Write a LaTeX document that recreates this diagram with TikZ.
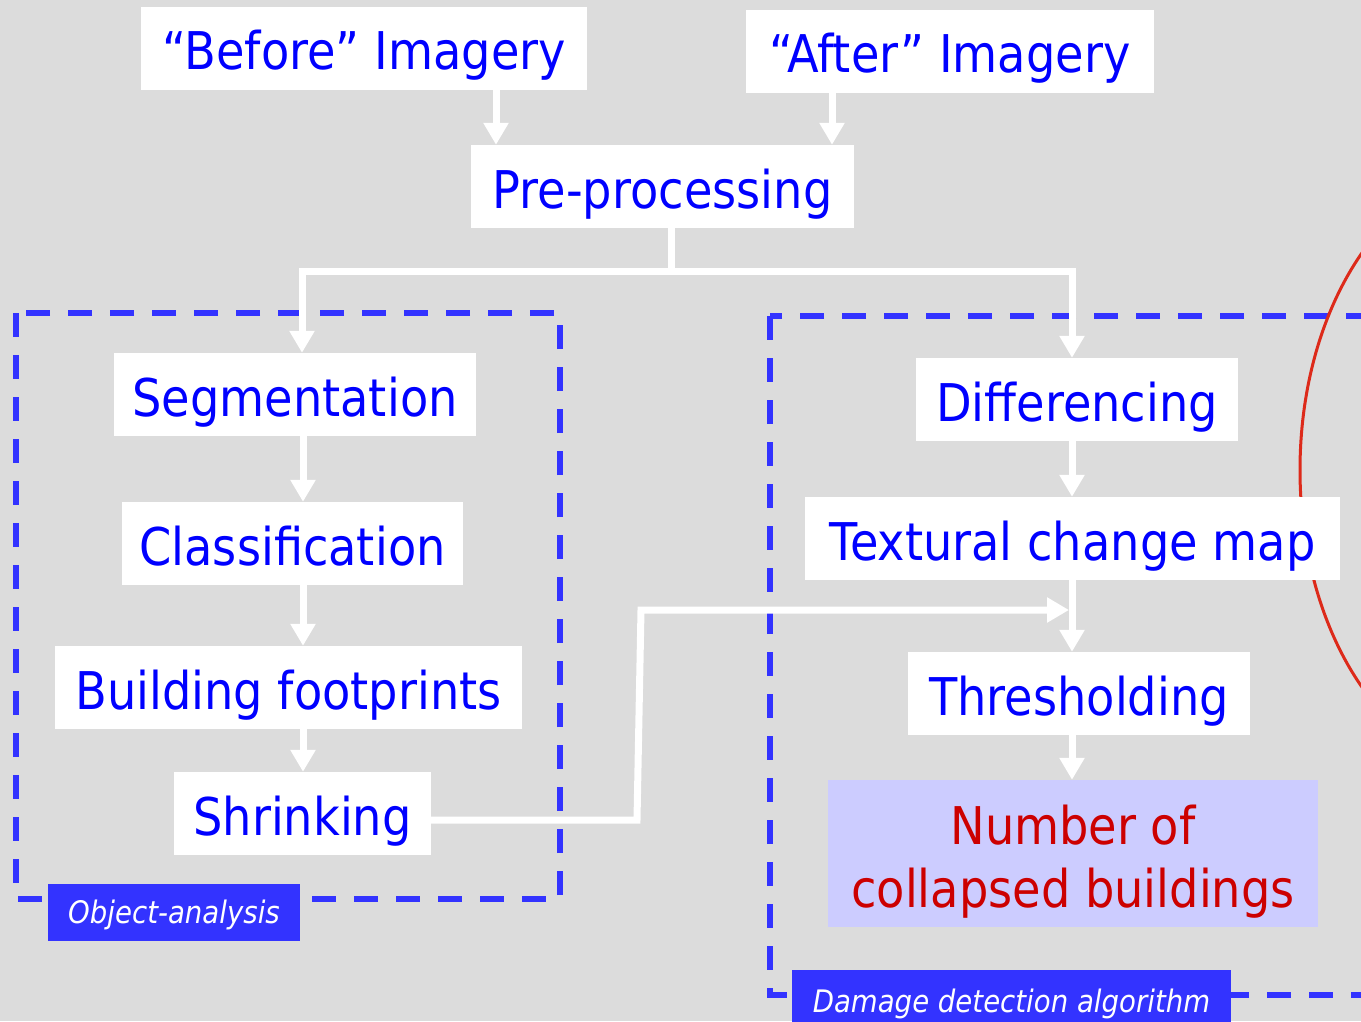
\documentclass[tikz,border=0pt]{standalone}
\usepackage{fontspec}
\setmainfont{DejaVu Sans}[FakeStretch=0.89]
\usetikzlibrary{arrows.meta}
\definecolor{bg}{HTML}{DCDCDC}
\definecolor{tblue}{HTML}{0000FF}
\definecolor{dblue}{HTML}{3333FF}
\definecolor{nred}{HTML}{CC0000}
\definecolor{nfill}{HTML}{CCCCFF}
\definecolor{ered}{HTML}{DD2A1A}
\begin{document}
\begin{tikzpicture}[x=1pt,y=-1pt,
  boxbase/.style={fill=white, text=tblue, font=\fontsize{52}{63}\selectfont, inner sep=0pt, minimum height=83pt},
  box/.style={boxbase, text height=43pt, text depth=0pt},
  lab/.style={fill=dblue, text=white, font=\fontsize{31}{36}\selectfont\itshape, inner sep=0pt, text depth=0pt},
  link/.style={draw=white, line width=7pt, line join=miter},
  arr/.style={link, -{Triangle[width=24pt,length=22pt]}},
  dbox/.style={draw=dblue, line width=5.5pt, dash pattern=on 24pt off 18pt}]
\useasboundingbox (0,0) rectangle (1361,1021);
\fill[bg] (0,0) rectangle (1361,1021);
% dashed group boxes
\draw[dbox] (16,313) rectangle (560,899);
\draw[dbox] (770,316) rectangle (1420,995);
% red ellipse
\begin{scope}
\clip (0,0) rectangle (1361,1021);
\draw[ered, line width=3pt] (1500,470) ellipse [x radius=200, y radius=300];
\end{scope}
% nodes
\node[box, minimum width=446pt] (before) at (364,48) {“Before” Imagery};
\node[box, minimum width=408pt] (after) at (950,51) {“After” Imagery};
\node[box, minimum width=383pt] (pre) at (662.5,186.5) {Pre-processing};
\node[box, minimum width=362pt] (seg) at (295,394.5) {Segmentation};
\node[box, minimum width=341pt] (cls) at (292.5,543.5) {Classification};
\node[box, minimum width=467pt] (bfp) at (288.5,687.5) {Building footprints};
\node[box, minimum width=257pt] (shr) at (302.5,813.5) {Shrinking};
\node[box, minimum width=322pt] (dif) at (1077,399.5) {Differencing};
\node[box, minimum width=535pt] (tex) at (1072.5,538.5) {Textural change map};
\node[box, minimum width=342pt] (thr) at (1079,693.5) {Thresholding};
\node[boxbase, fill=nfill, text=nred, align=center, text depth=0pt, minimum width=490pt, minimum height=147pt] (num) at (1073,853.5) {\rule{0pt}{45pt}Number of\\collapsed buildings};
\node[lab, text height=21pt, minimum width=252pt, minimum height=57pt] (oa) at (174,912.5) {Object-analysis};
\node[lab, text height=24pt, minimum width=439pt, minimum height=60pt] (dd) at (1011.5,1000) {Damage detection algorithm};
% helper coordinates
\coordinate (xb) at (496,0);
\coordinate (xa) at (832,0);
\coordinate (j) at (671,271);
\coordinate (xs) at (302,0);
\coordinate (xl) at (303,0);
\coordinate (xr) at (1072,0);
\coordinate (s1) at (637,820);
\coordinate (s2) at (641,610);
\coordinate (s3) at (1069,610);
% connectors
\draw[arr] (before.south -| xb) -- (pre.north -| xb);
\draw[arr] (after.south -| xa) -- (pre.north -| xa);
\draw[link] (pre.south -| j) -- (j);
\draw[arr] (j) -| (seg.north -| xs);
\draw[arr] (j) -| (dif.north -| xr);
\draw[arr] (seg.south -| xl) -- (cls.north -| xl);
\draw[arr] (cls.south -| xl) -- (bfp.north -| xl);
\draw[arr] (bfp.south -| xl) -- (shr.north -| xl);
\draw[arr] (dif.south -| xr) -- (tex.north -| xr);
\draw[arr] (tex.south -| xr) -- (thr.north -| xr);
\draw[arr] (thr.south -| xr) -- (num.north -| xr);
\draw[arr] (shr.east |- s1) -- (s1) -- (s2) -- (s3);
\end{tikzpicture}
\end{document}
